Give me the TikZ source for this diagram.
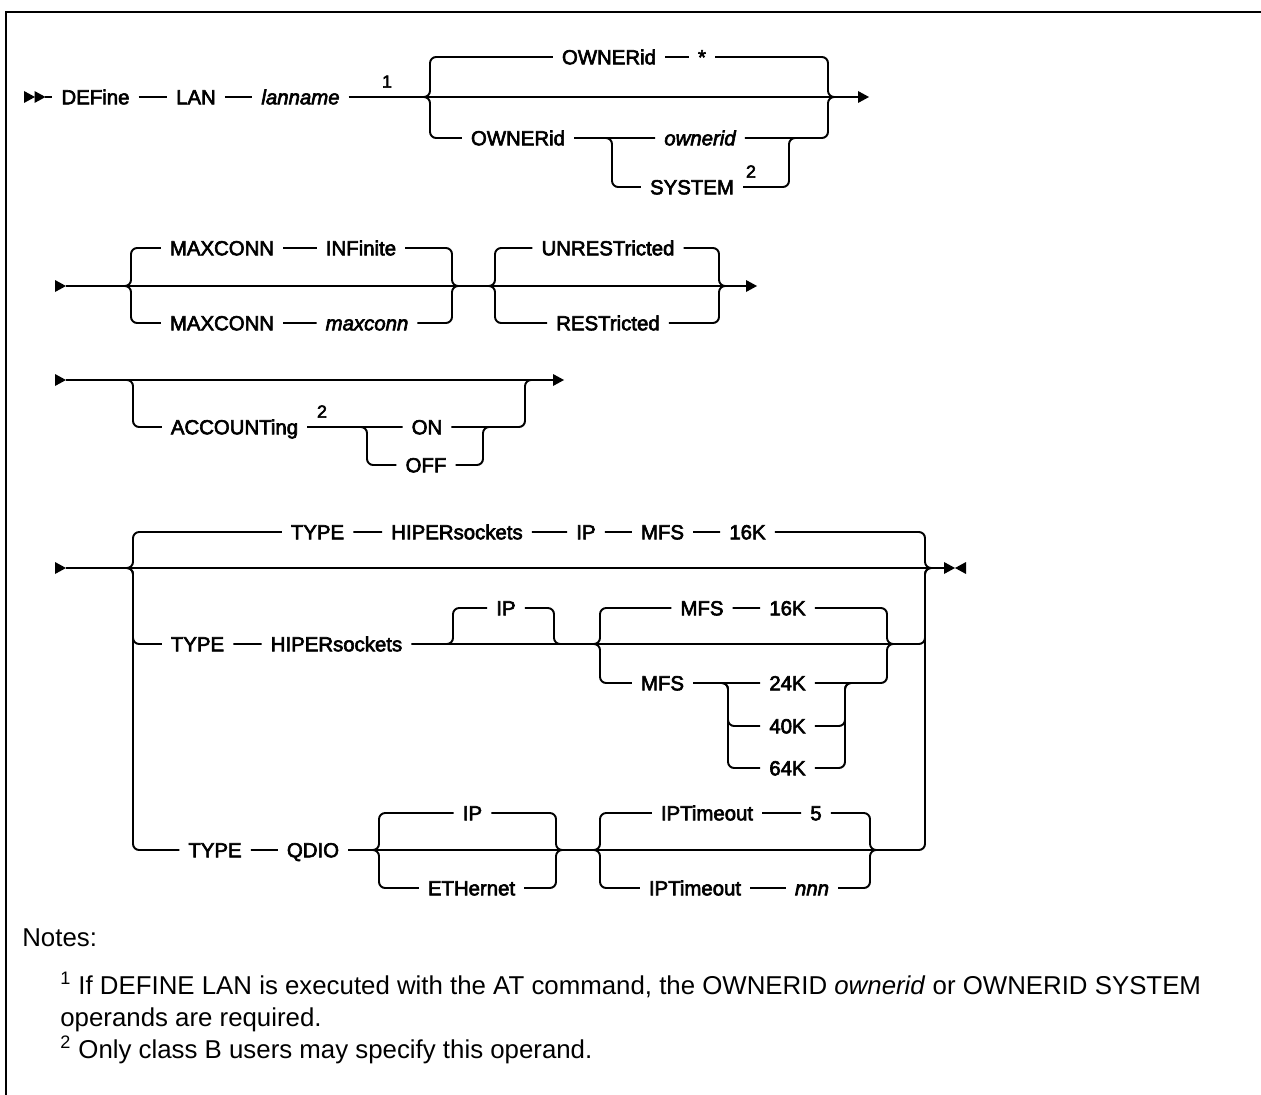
\documentclass[tikz,border=0pt]{standalone}
\usepackage{fontspec}
\setmainfont{Liberation Sans}
\newfontfamily\railfont[FakeBold=3]{Liberation Sans}
\usetikzlibrary{arrows.meta}
\tikzset{
  rail/.style={line width=1.1pt, rounded corners=3.5pt},
  kw/.style={font=\railfont\fontsize{11.6}{13}\selectfont, inner xsep=5pt, inner ysep=0pt, text height=8.3pt, text depth=0pt},
  var/.style={kw, font=\railfont\itshape\fontsize{11.6}{13}\selectfont},
  fn/.style={font=\railfont\fontsize{10}{11}\selectfont, inner sep=0pt, anchor=south},
  frame/.style={line width=1.4pt},
  note/.style={font=\fontsize{14.7}{17}\selectfont, anchor=base west, inner sep=0pt}
}

\begin{document}
\begin{tikzpicture}[x=0.02cm, y=-0.02cm]
  \useasboundingbox (0,0) rectangle (1261,1095);
  % frame
  \draw[frame] (6,1095) -- (6,12) -- (1261,12);

  % row 1: DEFine LAN lanname
  \coordinate (s1) at (45,97);
  \coordinate (e1) at (858,97);
  \coordinate (j1) at (430,97);
  \coordinate (m1) at (828,97);
  \node[kw] (define) at (95.5,97) {DEFine};
  \node[kw] (lan) at (196,97) {LAN};
  \node[var] (lanname) at (300.5,97) {lanname};
  \node[fn] (fn1) at (387,88) {1};
  \node[kw] (ownA) at (609,57) {OWNERid};
  \node[kw] (star) at (702,57) {*};
  \node[kw] (ownB) at (518,138) {OWNERid};
  \coordinate (j2) at (612,138);
  \coordinate (m2) at (789,138);
  \node[var] (ownerid) at (700,138) {ownerid};
  \node[kw] (system) at (692,187) {SYSTEM};
  \node[fn] (fn2) at (751,178) {2};
  \draw[rail] (s1) -- (define) -- (lan) -- (lanname) -- (e1);
  \draw[rail] (j1) ++(-7,0) -| (ownA -| j1) -- (ownA) -- (star) -| (m1) -- ++(7,0);
  \draw[rail] (j1) ++(-7,0) -| (ownB -| j1) -- (ownB) -- (ownerid) -| (m1) -- ++(7,0);
  \draw[rail] (j2) ++(-7,0) -| (system -| j2) -- (system) -| (m2) -- ++(7,0);

  % row 2: MAXCONN, UNRESTricted
  \coordinate (s2) at (66,286);
  \coordinate (e2) at (746,286);
  \coordinate (j3) at (131,286);
  \coordinate (m3) at (452,286);
  \coordinate (j4) at (495,286);
  \coordinate (m4) at (719,286);
  \node[kw] (maxA) at (222,248) {MAXCONN};
  \node[kw] (inf) at (361,248) {INFinite};
  \node[kw] (maxB) at (222,323) {MAXCONN};
  \node[var] (maxconn) at (367,323) {maxconn};
  \node[kw] (unres) at (608,248) {UNRESTricted};
  \node[kw] (res) at (608,323) {RESTricted};
  \draw[rail] (s2) -- (e2);
  \draw[rail] (j3) ++(-7,0) -| (maxA -| j3) -- (maxA) -- (inf) -| (m3) -- ++(7,0);
  \draw[rail] (j3) ++(-7,0) -| (maxB -| j3) -- (maxB) -- (maxconn) -| (m3) -- ++(7,0);
  \draw[rail] (j4) ++(-7,0) -| (unres -| j4) -- (unres) -| (m4) -- ++(7,0);
  \draw[rail] (j4) ++(-7,0) -| (res -| j4) -- (res) -| (m4) -- ++(7,0);

  % row 3: ACCOUNTing
  \coordinate (s3) at (66,380);
  \coordinate (e3) at (553,380);
  \coordinate (j5) at (133,380);
  \coordinate (m5) at (525,380);
  \node[kw] (acc) at (234.5,427) {ACCOUNTing};
  \node[fn] (fn3) at (322,418) {2};
  \coordinate (j6) at (367,427);
  \coordinate (m6) at (483,427);
  \node[kw] (on) at (427,427) {ON};
  \node[kw] (off) at (426,465) {OFF};
  \draw[rail] (s3) -- (e3);
  \draw[rail] (j5) ++(-7,0) -| (acc -| j5) -- (acc) -- (on) -| (m5) -- ++(7,0);
  \draw[rail] (j6) ++(-7,0) -| (off -| j6) -- (off) -| (m6) -- ++(7,0);

  % row 4: TYPE
  \coordinate (s4) at (66,568);
  \coordinate (e4) at (945,568);
  \coordinate (j7) at (133,568);
  \coordinate (m7) at (925,568);
  \node[kw] (tA) at (317.5,532) {TYPE};
  \node[kw] (hA) at (457,532) {HIPERsockets};
  \node[kw] (ipA) at (586,532) {IP};
  \node[kw] (mfsA) at (662.5,532) {MFS};
  \node[kw] (kA) at (747.5,532) {16K};
  \draw[rail] (s4) -- (e4);
  \draw[rail] (j7) ++(-7,0) -| (tA -| j7) -- (tA) -- (hA) -- (ipA) -- (mfsA) -- (kA) -| (m7) -- ++(7,0);
  % TYPE HIPERsockets
  \node[kw] (tB) at (197.5,644) {TYPE};
  \node[kw] (hB) at (336.5,644) {HIPERsockets};
  \coordinate (j8) at (453,644);
  \coordinate (m8) at (554,644);
  \coordinate (j9) at (600,644);
  \coordinate (m9) at (887,644);
  \node[kw] (ipB) at (506,608) {IP};
  \node[kw] (mfsB) at (702,608) {MFS};
  \node[kw] (kB) at (787.5,608) {16K};
  \node[kw] (mfsC) at (662.5,683) {MFS};
  \coordinate (j10) at (728,683);
  \coordinate (m10) at (845,683);
  \node[kw] (k24) at (787.5,683) {24K};
  \node[kw] (k40) at (787.5,726) {40K};
  \node[kw] (k64) at (787.5,768) {64K};
  \draw[rail] (j7) ++(-7,0) -| (tB -| j7) -- (tB) -- (hB) -| (m7) -- ++(7,0);
  \draw[rail] (j8) ++(-7,0) -| (ipB -| j8) -- (ipB) -| (m8) -- ++(7,0);
  \draw[rail] (j9) ++(-7,0) -| (mfsB -| j9) -- (mfsB) -- (kB) -| (m9) -- ++(7,0);
  \draw[rail] (j9) ++(-7,0) -| (mfsC -| j9) -- (mfsC) -- (k24) -| (m9) -- ++(7,0);
  \foreach \k in {k40,k64}
    \draw[rail] (j10) ++(-7,0) -| (\k -| j10) -- (\k) -| (m10) -- ++(7,0);
  % TYPE QDIO
  \node[kw] (tC) at (215,850) {TYPE};
  \node[kw] (qd) at (313,850) {QDIO};
  \coordinate (j11) at (379,850);
  \coordinate (m11) at (556,850);
  \coordinate (j12) at (600,850);
  \coordinate (m12) at (870,850);
  \node[kw] (ipC) at (472.5,813) {IP};
  \node[kw] (eth) at (471.5,888) {ETHernet};
  \node[kw] (iptA) at (707,813) {IPTimeout};
  \node[kw] (five) at (816,813) {5};
  \node[kw] (iptB) at (695,888) {IPTimeout};
  \node[var] (nnn) at (812,888) {nnn};
  \draw[rail] (j7) ++(-7,0) -| (tC -| j7) -- (tC) -- (qd) -| (m7) -- ++(7,0);
  \draw[rail] (j11) ++(-7,0) -| (ipC -| j11) -- (ipC) -| (m11) -- ++(7,0);
  \draw[rail] (j11) ++(-7,0) -| (eth -| j11) -- (eth) -| (m11) -- ++(7,0);
  \draw[rail] (j12) ++(-7,0) -| (iptA -| j12) -- (iptA) -- (five) -| (m12) -- ++(7,0);
  \draw[rail] (j12) ++(-7,0) -| (iptB -| j12) -- (iptB) -- (nnn) -| (m12) -- ++(7,0);

  % start / end marks
  \foreach \x/\y in {24/97, 34.5/97, 55/286, 55/380, 55/568, 858/97, 746/286, 553/380, 944/568}
    \fill (\x,\y-6) -- ++(11,6) -- ++(-11,6) -- cycle;
  \fill (966,562) -- (955,568) -- (966,574) -- cycle;

  % notes
  \node[note] (notes) at (22,946) {Notes:};
  \node[note] (note1) at (60,994) {\textsuperscript{1} If DEFINE LAN is executed with the AT command, the OWNERID \textit{ownerid} or OWNERID SYSTEM};
  \node[note] (note1b) at (60,1026) {operands are required.};
  \node[note] (note2) at (60,1058) {\textsuperscript{2} Only class B users may specify this operand.};
\end{tikzpicture}
\end{document}
